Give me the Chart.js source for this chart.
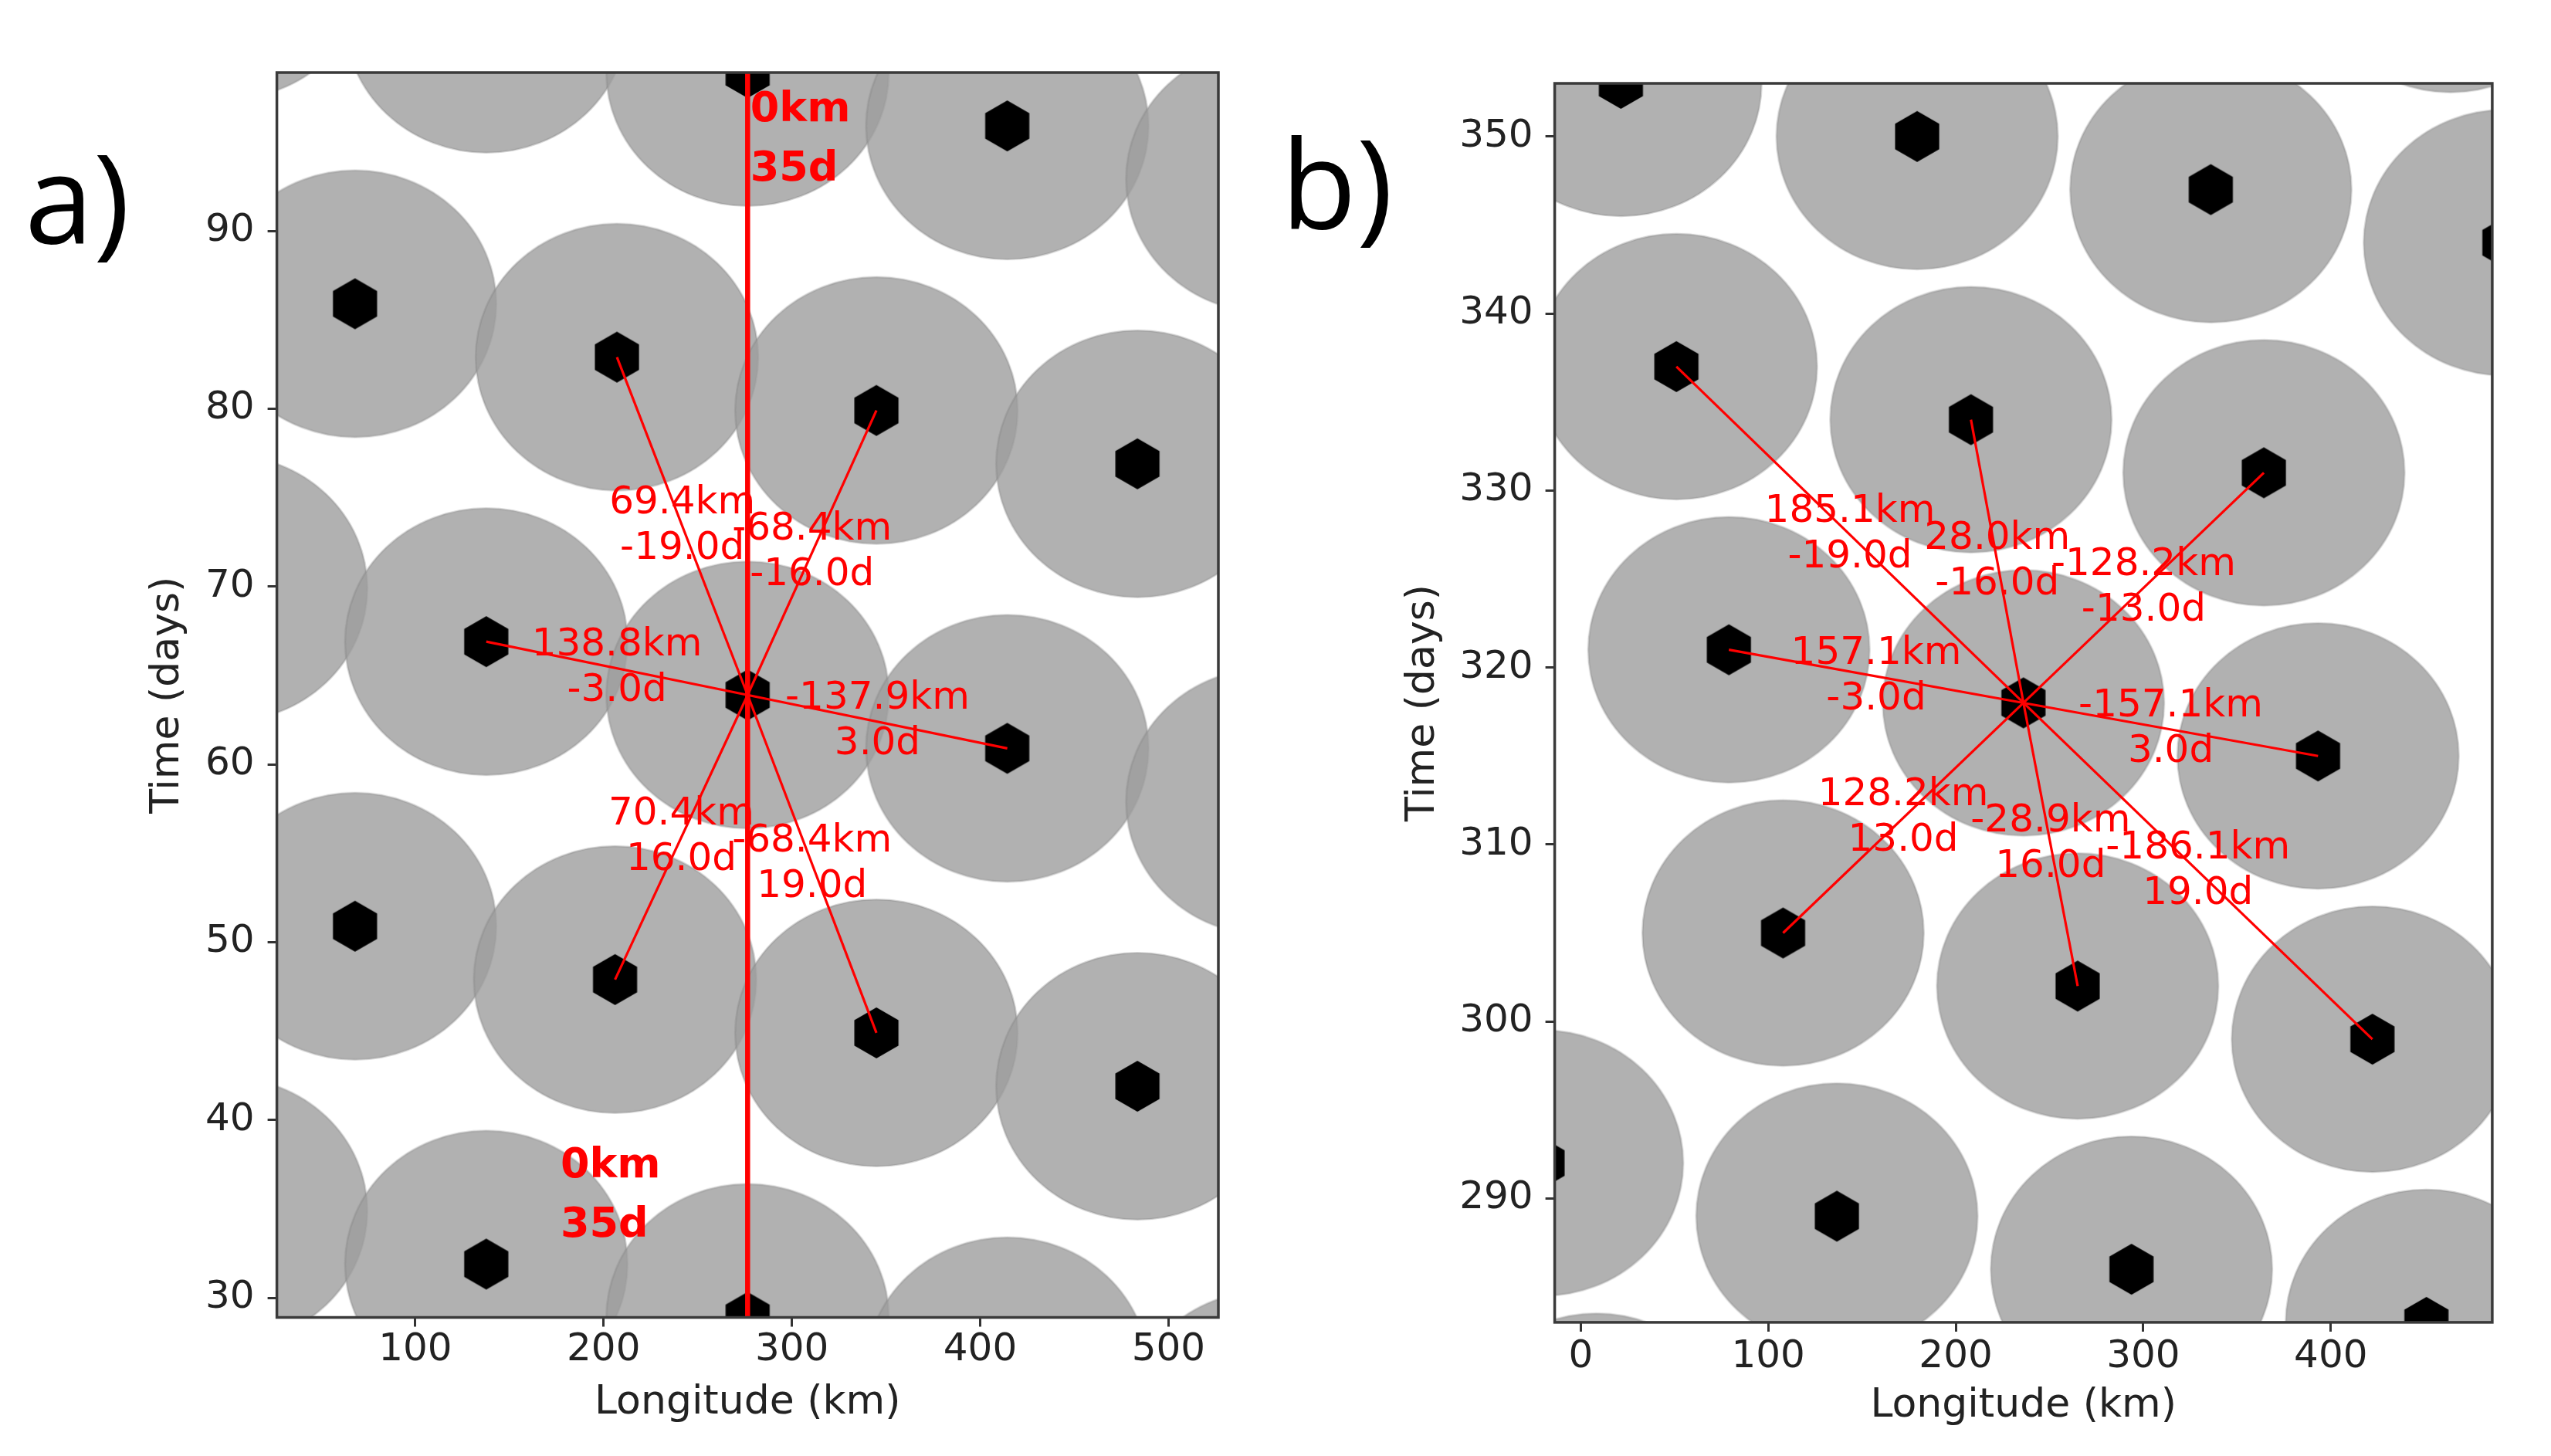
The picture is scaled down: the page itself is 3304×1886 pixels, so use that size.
<!DOCTYPE html>
<html lang="en">
<head>
<meta charset="utf-8">
<script src="https://cdn.jsdelivr.net/npm/chart.js"></script>
<style>
  html, body { margin: 0; padding: 0; background: #fff; }
  body { width: 3304px; height: 1886px; position: relative; overflow: hidden; }
  canvas { position: absolute; top: 0; }
  #chartA { left: 0; }
  #chartB { left: 1650px; }
</style>
</head>
<body>
<canvas id="chartA" width="1650" height="1886"></canvas>
<canvas id="chartB" width="1654" height="1886"></canvas>

<script>
  // ---- panel a ----
  var xTicksA = [100, 200, 300, 400, 500];
  var yTicksA = [30, 40, 50, 60, 70, 80, 90];
  var siteLonA = [-0.5, -0.5, -0.5, 68, 68, 137.7, 137.7, 137.7, 207.1, 206.1, 276.5, 276.5, 276.5,
                  344.9, 344.9, 414.4, 414.4, 414.4, 483.5, 483.5, 552.5, 552.5, 552.5];
  var siteDayA = [104.9, 69.9, 34.9, 85.9, 50.9, 101.9, 66.9, 31.9, 82.9, 47.9, 98.9, 63.9, 28.9,
                  79.9, 44.9, 95.9, 60.9, 25.9, 76.9, 41.9, 92.9, 57.9, 22.9];
  var centreA = [276.5, 63.9];
  var linkLonA = [207.1, 344.9, 137.7, 414.4, 206.1, 344.9, 276.5, 276.5];
  var linkDayA = [82.9, 79.9, 66.9, 60.9, 47.9, 44.9, 98.9, 28.9];
  var distTextA = ['69.4km', '-68.4km', '138.8km', '-137.9km', '70.4km', '-68.4km'];
  var lagTextA = ['-19.0d', '-16.0d', '-3.0d', '3.0d', '16.0d', '19.0d'];
  var boldTextA = [['0km', '35d'], ['0km', '35d']];
  var boldLonA = [277.9, 177.1];
  var boldDayA = [95.1, 35.7];

  // ---- panel b ----
  var xTicksB = [0, 100, 200, 300, 400];
  var yTicksB = [290, 300, 310, 320, 330, 340, 350];
  var siteLonB = [-78, -49.2, -20.4, 8.4, 21.4, 51.0, 79.0, 107.9, 136.6, 179.4, 208.1, 236.1, 265.0,
                  293.7, 336.0, 364.3, 393.2, 422.2, 451.0, 463.8, 492.6, 521.4, 550.2];
  var siteDayB = [324, 308, 292, 276, 353, 337, 321, 305, 289, 350, 334, 318, 302,
                  286, 347, 331, 315, 299, 283, 360, 344, 328, 312];
  var centreB = [236.1, 318];
  var linkLonB = [51.0, 208.1, 364.3, 79.0, 393.2, 107.9, 265.0, 422.2];
  var linkDayB = [337, 334, 331, 321, 315, 305, 302, 299];
  var distTextB = ['185.1km', '28.0km', '-128.2km', '157.1km', '-157.1km', '128.2km', '-28.9km', '-186.1km'];
  var lagTextB = ['-19.0d', '-16.0d', '-13.0d', '-3.0d', '3.0d', '13.0d', '16.0d', '19.0d'];

  // half width / half height of the grey zones (km, days)
  var zoneKm = 75;
  var zoneDays = 7.5;

  var FONT = '"DejaVu Sans", sans-serif';
  Chart.defaults.font.family = FONT;

  function toXY(xs, ys) {
    return xs.map(function (x, i) { return { x: x, y: ys[i] }; });
  }

  // black hexagon marker (pointy top)
  function hexagonImage(r) {
    var w = Math.ceil(Math.sqrt(3) * r) + 2, h = Math.ceil(2 * r) + 2;
    var c = document.createElement('canvas');
    c.width = w; c.height = h;
    var g = c.getContext('2d');
    g.beginPath();
    for (var k = 0; k < 6; k++) {
      var a = -Math.PI / 2 + k * Math.PI / 3;
      var px = w / 2 + r * Math.cos(a), py = h / 2 + r * Math.sin(a);
      if (k) g.lineTo(px, py); else g.moveTo(px, py);
    }
    g.closePath();
    g.fillStyle = '#000';
    g.fill();
    return c;
  }
  var hexImg = hexagonImage(33);

  // grey ellipse marker, sized from the chart's own scales
  var zoneCache = {};
  function zoneStyle(ctx) {
    var sx = ctx.chart.scales.x, sy = ctx.chart.scales.y;
    if (!sx || !sy || !sx.width) return 'circle';
    var rx = Math.abs(sx.getPixelForValue(zoneKm) - sx.getPixelForValue(0));
    var ry = Math.abs(sy.getPixelForValue(0) - sy.getPixelForValue(zoneDays));
    var key = rx.toFixed(2) + 'x' + ry.toFixed(2);
    if (!zoneCache[key]) {
      var c = document.createElement('canvas');
      c.width = Math.ceil(rx * 2 + 6);
      c.height = Math.ceil(ry * 2 + 6);
      var g = c.getContext('2d');
      g.beginPath();
      g.ellipse(c.width / 2, c.height / 2, rx, ry, 0, 0, Math.PI * 2);
      g.fillStyle = 'rgba(158,158,158,0.8)';
      g.fill();
      g.lineWidth = 2.5;
      g.strokeStyle = 'rgba(130,130,130,0.35)';
      g.stroke();
      zoneCache[key] = c;
    }
    return zoneCache[key];
  }

  function panelPlugin(p) {
    return {
      id: 'panelExtras',
      afterDatasetsDraw: function (chart) {
        var ctx = chart.ctx, sx = chart.scales.x, sy = chart.scales.y;
        ctx.save();
        ctx.fillStyle = '#ff0000';
        ctx.textAlign = 'center';
        ctx.textBaseline = 'middle';
        ctx.font = '50px ' + FONT;
        // distance / lag labels at the middle of each link
        p.distText.forEach(function (t, i) {
          var px = sx.getPixelForValue((p.centre[0] + p.linkLon[i]) / 2);
          var py = sy.getPixelForValue((p.centre[1] + p.linkDay[i]) / 2);
          ctx.fillText(t, px, py - 29.5);
          ctx.fillText(p.lagText[i], px, py + 29.5);
        });
        ctx.textAlign = 'left';
        ctx.font = 'bold 54px ' + FONT;
        (p.boldText || []).forEach(function (lines, i) {
          var px = sx.getPixelForValue(p.boldLon[i]);
          var py = sy.getPixelForValue(p.boldDay[i]);
          ctx.fillText(lines[0], px, py - 38.5);
          ctx.fillText(lines[1], px, py + 38.5);
        });
        ctx.restore();
      },
      afterDraw: function (chart) {
        var ctx = chart.ctx, a = chart.chartArea;
        ctx.save();
        ctx.strokeStyle = '#3a3a3a';
        ctx.lineWidth = 3.5;
        ctx.strokeRect(a.left, a.top, a.right - a.left, a.bottom - a.top);
        ctx.fillStyle = '#000';
        ctx.textAlign = 'left';
        ctx.textBaseline = 'alphabetic';
        ctx.font = '160px "Open Sans", sans-serif';
        ctx.fillText(p.letter, p.letterX, p.letterY);
        ctx.restore();
      }
    };
  }

  function buildPanel(canvasId, p) {
    var canvas = document.getElementById(canvasId);
    var W = canvas.width, H = canvas.height, f = p.frame;
    var datasets = [{
      label: 'zones',
      data: toXY(p.siteLon, p.siteDay),
      pointStyle: zoneStyle,
      pointRadius: 190,
      pointBorderWidth: 0,
      clip: 0,
      order: 3
    }, {
      label: 'sites',
      data: toXY(p.siteLon, p.siteDay),
      pointStyle: hexImg,
      pointRadius: 34,
      pointBorderWidth: 0,
      clip: 0,
      order: 2
    }];
    p.linkLon.forEach(function (lon, i) {
      datasets.push({
        label: 'link ' + i,
        data: [{ x: p.centre[0], y: p.centre[1] }, { x: lon, y: p.linkDay[i] }],
        showLine: true,
        borderColor: '#ff0000',
        borderWidth: lon === p.centre[0] ? 6.5 : 3.2,
        pointRadius: 0,
        order: 1
      });
    });

    var tickFont = { size: 50, lineHeight: 1 };
    var titleFont = { size: 52, lineHeight: 1.2 };
    var grid = { drawOnChartArea: false, drawTicks: true, tickLength: 12, tickWidth: 3, tickColor: '#333' };

    return new Chart(canvas.getContext('2d'), {
      type: 'scatter',
      data: { datasets: datasets },
      plugins: [panelPlugin(p)],
      options: {
        responsive: false,
        animation: false,
        devicePixelRatio: 1,
        events: [],
        layout: { autoPadding: false, padding: { left: 0, top: f.top, right: W - f.right, bottom: 0 } },
        plugins: { legend: { display: false }, tooltip: { enabled: false } },
        scales: {
          x: {
            type: 'linear',
            min: p.xRange[0],
            max: p.xRange[1],
            afterBuildTicks: function (s) { s.ticks = p.xTicks.map(function (v) { return { value: v }; }); },
            afterFit: function (s) { s.height = H - f.bottom; },
            grid: grid,
            border: { display: false },
            ticks: { font: tickFont, color: '#222', padding: p.xTickPad, maxRotation: 0, autoSkip: false },
            title: { display: true, text: 'Longitude (km)', color: '#222', font: titleFont,
                     padding: { top: 0, bottom: p.xTitlePad } }
          },
          y: {
            type: 'linear',
            min: p.yRange[0],
            max: p.yRange[1],
            afterBuildTicks: function (s) { s.ticks = p.yTicks.map(function (v) { return { value: v }; }); },
            afterFit: function (s) { s.width = f.left; },
            grid: grid,
            border: { display: false },
            ticks: { font: tickFont, color: '#222', padding: p.yTickPad, autoSkip: false },
            title: { display: true, text: 'Time (days)', color: '#222', font: titleFont,
                     padding: { top: p.yTitlePad, bottom: 0 } }
          }
        }
      }
    });
  }

  buildPanel('chartA', {
    xRange: [26.5, 526.5], yRange: [28.9, 98.9],
    xTicks: xTicksA, yTicks: yTicksA,
    siteLon: siteLonA, siteDay: siteDayA,
    centre: centreA, linkLon: linkLonA, linkDay: linkDayA,
    distText: distTextA, lagText: lagTextA,
    boldText: boldTextA, boldLon: boldLonA, boldDay: boldDayA,
    frame: { left: 358.6, top: 94, right: 1578, bottom: 1706.5 },
    xTickPad: 6, yTickPad: 17, xTitlePad: 37.8, yTitlePad: 185.8,
    letter: 'a)', letterX: 32, letterY: 315
  });

  buildPanel('chartB', {
    xRange: [-13.9, 486.1], yRange: [283, 353],
    xTicks: xTicksB, yTicks: yTicksB,
    siteLon: siteLonB, siteDay: siteDayB,
    centre: centreB, linkLon: linkLonB, linkDay: linkDayB,
    distText: distTextB, lagText: lagTextB,
    frame: { left: 363.6, top: 108, right: 1577.9, bottom: 1712.9 },
    xTickPad: 8, yTickPad: 16, xTitlePad: 33.2, yTitlePad: 161.8,
    letter: 'b)', letterX: 9, letterY: 296
  });
</script>
</body>
</html>
